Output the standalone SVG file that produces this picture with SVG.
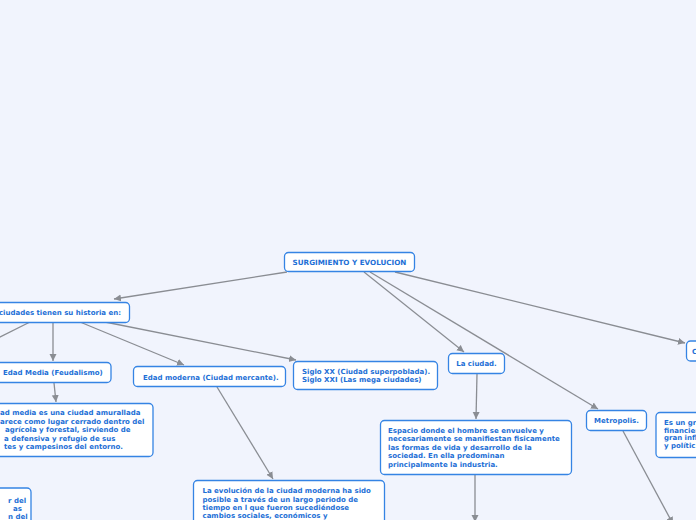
<svg xmlns="http://www.w3.org/2000/svg" width="696" height="520" viewBox="0 0 696 520">
<defs>
<marker id="arr" markerWidth="8" markerHeight="8" refX="7" refY="4" orient="auto" markerUnits="userSpaceOnUse">
<path d="M0,0.5 L7,4 L0,7.5 Z" fill="#8a8d93"/>
</marker>
<style>
.bg{fill:#f1f4fd}
.box{fill:#ffffff;stroke:#3584e4;stroke-width:1.3}
.t{font-family:"DejaVu Sans",Verdana,sans-serif;font-weight:bold;font-size:7px;fill:#1d6fd6}
.h{font-size:7.2px}
.c{text-anchor:middle}
.e{text-anchor:end}
.ln{stroke:#8a8d93;stroke-width:1.3;fill:none}
.a{marker-end:url(#arr)}
</style>
</defs>
<rect class="bg" x="0" y="0" width="696" height="520"/>
<g id="connectors">
<path class="ln a" d="M287,272 L114,299"/>
<path class="ln a" d="M364,272 L464,352"/>
<path class="ln a" d="M370,272 L598,409"/>
<path class="ln a" d="M395,272 L685,343"/>
<path class="ln" d="M30,322 L-2,338"/>
<path class="ln a" d="M53,322 L53,361"/>
<path class="ln a" d="M80,322 L184,365"/>
<path class="ln a" d="M105,322 L296,360"/>
<path class="ln a" d="M54,383 L56,402"/>
<path class="ln a" d="M217,387 L273,479"/>
<path class="ln a" d="M477,374 L476,419"/>
<path class="ln a" d="M475,475 L475,522"/>
<path class="ln a" d="M623,431 L673,524"/>
</g>
<g id="n-root">
<rect class="box" x="284.5" y="252.5" width="130" height="19" rx="4"/>
<text class="t h c" x="349.5" y="264.5">SURGIMIENTO Y EVOLUCION</text>
</g>
<g id="n-historia">
<rect class="box" x="-10.5" y="302.5" width="140" height="20" rx="4"/>
<text class="t e" x="121" y="315">ciudades tienen su historia en:</text>
</g>
<g id="n-media">
<rect class="box" x="-6" y="362.5" width="117" height="20" rx="4"/>
<text class="t" x="3" y="375">Edad Media (Feudalismo)</text>
</g>
<g id="n-moderna">
<rect class="box" x="133.5" y="366.5" width="152" height="20" rx="4"/>
<text class="t" x="143" y="379.5">Edad moderna (Ciudad mercante).</text>
</g>
<g id="n-siglo">
<rect class="box" x="293.5" y="361.5" width="144" height="28" rx="4"/>
<text class="t" x="302" y="373.5">Siglo XX (Ciudad superpoblada).</text>
<text class="t" x="302" y="382">Siglo XXI (Las mega ciudades)</text>
</g>
<g id="n-ciudad">
<rect class="box" x="448.5" y="353.5" width="56" height="20" rx="4"/>
<text class="t c" x="476.5" y="366">La ciudad.</text>
</g>
<g id="n-espacio">
<rect class="box" x="380.5" y="420.5" width="191" height="54" rx="4"/>
<text class="t" x="388" y="433">Espacio donde el hombre se envuelve y</text>
<text class="t" x="388" y="441.4">necesariamente se manifiestan fisicamente</text>
<text class="t" x="388" y="449.8">las formas de vida y desarrollo de la</text>
<text class="t" x="388" y="458.2">sociedad. En ella predominan</text>
<text class="t" x="388" y="466.6">principalmente la industria.</text>
</g>
<g id="n-metropolis">
<rect class="box" x="586.5" y="410.5" width="60" height="20" rx="4"/>
<text class="t c" x="616.5" y="423">Metropolis.</text>
</g>
<g id="n-right">
<rect class="box" x="686.5" y="341" width="30" height="20" rx="4"/>
<text class="t" x="692" y="354">C</text>
</g>
<g id="n-esun">
<rect class="box" x="656" y="412.5" width="60" height="45" rx="4"/>
<text class="t" x="664" y="425">Es un gr</text>
<text class="t" x="664" y="432.5">financier</text>
<text class="t" x="664" y="440">gran infl</text>
<text class="t" x="664" y="447.5">y polític</text>
</g>
<g id="n-feudal">
<rect class="box" x="-6" y="403.5" width="159" height="53" rx="4"/>
<text class="t" x="0" y="415">ad media es una ciudad amurallada</text>
<text class="t" x="0" y="423.5">arece como lugar cerrado dentro del</text>
<text class="t" x="5" y="432">agrícola y forestal, sirviendo de</text>
<text class="t" x="4" y="440.5">a defensiva y refugio de sus</text>
<text class="t" x="4" y="449">tes y campesinos del entorno.</text>
</g>
<g id="n-evolucion">
<rect class="box" x="193.5" y="480.5" width="191" height="50" rx="4"/>
<text class="t" x="202.5" y="493">La evolución de la ciudad moderna ha sido</text>
<text class="t" x="202.5" y="501.5">posible a través de un largo periodo de</text>
<text class="t" x="202.5" y="510">tiempo en l que fueron sucediéndose</text>
<text class="t" x="202.5" y="518.3">cambios sociales, económicos y</text>
</g>
<g id="n-bottomleft">
<rect class="box" x="-6" y="488" width="37" height="40" rx="4"/>
<text class="t" x="8" y="503">r del</text>
<text class="t" x="13" y="511">as</text>
<text class="t" x="8" y="519">n del</text>
</g>
</svg>
